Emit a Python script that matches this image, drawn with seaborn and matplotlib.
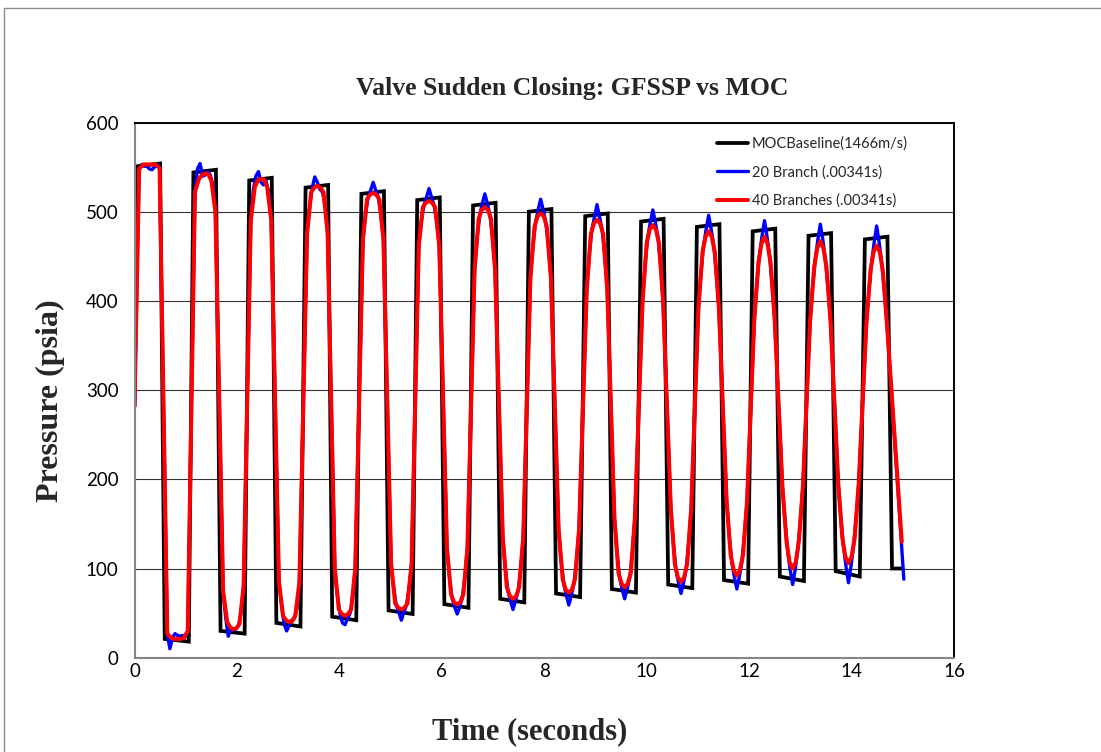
import numpy as np
import pandas as pd
import matplotlib
matplotlib.use("Agg")
import matplotlib.pyplot as plt
import seaborn as sns
from matplotlib.lines import Line2D

# ---------------------------------------------------------------- data
series_names = ["MOCBaseline(1466m/s)", "20 Branch (.00341s)", "40 Branches (.00341s)"]
series_colors = ["#000000", "#0000FF", "#FF0000"]

x_ticks = [0, 2, 4, 6, 8, 10, 12, 14, 16]
y_ticks = [0, 100, 200, 300, 400, 500, 600]

# pressure at valve closure (t = 0) and end of the run
p_initial = 282
t_end = 15.0

# times of the pressure extremes: peak, trough, peak, ...
extreme_t = [0.29, 0.84, 1.38, 1.93, 2.47, 3.02, 3.57, 4.11, 4.66, 5.21,
             5.75, 6.30, 6.84, 7.39, 7.93, 8.48, 9.03, 9.57, 10.12, 10.67,
             11.21, 11.76, 12.30, 12.85, 13.39, 13.94, 14.49]
last_trough_t = 15.04

# MOC baseline: plateau pressures (psia) at start / end of each plateau
moc_high_start = [551, 544, 535, 527, 520, 513, 507, 500, 495, 489, 483, 478, 473, 469]
moc_high_end = [554, 547, 538, 530, 523, 516, 510, 503, 498, 492, 486, 481, 476, 472]
moc_low_start = [21, 30, 39, 46, 53, 60, 66, 72, 77, 82, 87, 91, 97, 100]
moc_low_end = [18, 27, 35, 42, 49, 56, 62, 68, 73, 78, 83, 86, 91, 100]

# GFSSP 40 branches: pressure around each extreme, at these time offsets (s)
red_offsets = [-0.2, -0.12, -0.06, 0.0, 0.06, 0.12, 0.2]
red_levels = [
    [548, 553, 553, 553, 553, 553, 549],
    [27, 22, 21, 21, 21, 22, 30],
    [522, 537, 541, 543, 542, 535, 500],
    [75, 40, 34, 32, 33, 38, 80],
    [490, 528, 535, 537, 536, 528, 490],
    [85, 47, 42, 40, 41, 47, 85],
    [476, 522, 527, 529, 527, 522, 476],
    [100, 54, 49, 47, 49, 54, 100],
    [469, 514, 519, 521, 519, 514, 469],
    [105, 61, 56, 54, 56, 61, 105],
    [462, 505, 510, 512, 510, 505, 462],
    [123, 71, 62, 60, 62, 71, 123],
    [435, 492, 502, 505, 502, 492, 435],
    [135, 79, 69, 66, 69, 79, 135],
    [426, 483, 495, 498, 495, 483, 426],
    [144, 88, 76, 73, 76, 88, 144],
    [413, 475, 487, 491, 487, 475, 413],
    [157, 95, 83, 79, 83, 95, 157],
    [400, 465, 480, 485, 480, 465, 400],
    [168, 105, 90, 85, 90, 105, 168],
    [392, 455, 472, 478, 472, 455, 392],
    [176, 115, 98, 92, 98, 115, 176],
    [378, 442, 464, 472, 464, 442, 378],
    [192, 130, 107, 100, 107, 130, 192],
    [377, 438, 459, 467, 459, 438, 377],
    [195, 134, 113, 106, 113, 134, 195],
    [375, 434, 455, 462, 455, 434, 375],
]
red_final = (14.98, 130)

# GFSSP 20 branches: pressure around each extreme, at these time offsets (s)
blue_offsets = [-0.2, -0.15, -0.1, -0.05, 0.0, 0.05, 0.1, 0.15, 0.2]
blue_levels = [
    [548, 553, 551, 551, 548, 547, 550, 553, 549],
    [27, 10, 22, 27, 25, 24, 25, 23, 30],
    [522, 548, 554, 540, 541, 545, 541, 530, 500],
    [75, 45, 24, 32, 31, 32, 36, 50, 80],
    [490, 525, 540, 545, 533, 530, 534, 522, 490],
    [85, 60, 38, 30, 36, 42, 44, 55, 85],
    [476, 505, 527, 539, 533, 525, 522, 508, 476],
    [100, 70, 50, 39, 37, 44, 50, 68, 100],
    [469, 497, 516, 524, 533, 524, 516, 497, 469],
    [105, 78, 59, 51, 42, 51, 59, 78, 105],
    [462, 489, 507, 516, 526, 516, 507, 489, 462],
    [123, 90, 67, 57, 49, 57, 67, 90, 123],
    [435, 471, 496, 509, 520, 509, 496, 471, 435],
    [135, 100, 75, 64, 54, 64, 75, 100, 135],
    [426, 462, 488, 502, 514, 502, 488, 462, 426],
    [144, 109, 83, 70, 59, 70, 83, 109, 144],
    [413, 452, 480, 494, 508, 494, 480, 452, 413],
    [157, 118, 90, 77, 66, 77, 90, 118, 157],
    [400, 441, 471, 488, 502, 488, 471, 441, 400],
    [168, 129, 99, 84, 72, 84, 99, 129, 168],
    [392, 431, 462, 480, 496, 480, 462, 431, 392],
    [176, 138, 108, 91, 77, 91, 108, 138, 176],
    [378, 418, 450, 472, 490, 472, 450, 418, 378],
    [192, 153, 121, 99, 82, 99, 121, 153, 192],
    [377, 415, 446, 468, 486, 468, 446, 415, 377],
    [195, 157, 126, 103, 84, 103, 126, 157, 195],
    [375, 412, 442, 465, 484, 465, 442, 412, 375],
]
blue_final = (15.02, 88)

# plateau edges of the MOC wave relative to the extreme times (s)
HIGH_LEAD, HIGH_LAG = 0.23, 0.21
LOW_LEAD, LOW_LAG = 0.25, 0.22


# ---------------------------------------------------------------- series
def moc_frame():
    t, p = [0.0], [p_initial]
    for k in range(len(moc_high_start)):
        pc = extreme_t[2 * k]
        tc = extreme_t[2 * k + 1] if 2 * k + 1 < len(extreme_t) else last_trough_t
        t += [pc - HIGH_LEAD, pc + HIGH_LAG, tc - LOW_LEAD, min(tc + LOW_LAG, t_end)]
        p += [moc_high_start[k], moc_high_end[k], moc_low_start[k], moc_low_end[k]]
    return pd.DataFrame({"t": t, "p": p})


def gfssp_frame(offsets, levels, final):
    t, p = [0.0], [p_initial]
    for tc, row in zip(extreme_t, levels):
        for dt, val in zip(offsets, row):
            t.append(tc + dt)
            p.append(val)
    t.append(final[0])
    p.append(final[1])
    return pd.DataFrame({"t": t, "p": p})


frames = [moc_frame(),
          gfssp_frame(blue_offsets, blue_levels, blue_final),
          gfssp_frame(red_offsets, red_levels, red_final)]
widths = [2.7, 2.4, 2.9]

# ---------------------------------------------------------------- figure
sns.set_theme(style="white")
plt.rcParams["font.family"] = ["Lato", "DejaVu Sans"]

W, H = 1101, 752
fig = plt.figure(figsize=(W / 100, H / 100), dpi=100)
fig.patch.set_facecolor("white")
ax = fig.add_axes([134.5 / W, 1 - 657.7 / H, (954 - 134.5) / W, (657.7 - 122.5) / H])

for df, name, col, lw in zip(frames, series_names, series_colors, widths):
    sns.lineplot(data=df, x="t", y="p", ax=ax, color=col, linewidth=lw,
                 sort=False, estimator=None, label=name,
                 solid_joinstyle="miter" if name.startswith("MOC") else "round")

ax.set_xlim(0, 16)
ax.set_ylim(0, 600)
ax.set_xticks(x_ticks)
ax.set_yticks(y_ticks)
ax.set_xlabel("")
ax.set_ylabel("")
ax.yaxis.grid(True, color="#333333", linewidth=0.8)
ax.xaxis.grid(False)
ax.set_axisbelow(True)

for side in ("top", "right"):
    ax.spines[side].set_color("#000000")
    ax.spines[side].set_linewidth(1.4)
for side in ("left", "bottom"):
    ax.spines[side].set_color("#868686")
    ax.spines[side].set_linewidth(1.5)

ax.tick_params(axis="both", direction="out", length=5, width=1,
               color="#868686", labelsize=13.5, labelcolor="#000000")
ax.tick_params(axis="y", pad=6.5)
ax.tick_params(axis="x", pad=-1)

handles, labels = ax.get_legend_handles_labels()
ax.legend(handles, labels, loc="upper right", bbox_to_anchor=(0.944, 0.974),
          frameon=False, fontsize=10.5, handlelength=2.1, handletextpad=0.3,
          labelspacing=0.98, borderpad=0, borderaxespad=0)

serif = ["Liberation Serif", "DejaVu Serif"]
fig.text(572 / W, 1 - 88 / H, "Valve Sudden Closing: GFSSP vs MOC",
         ha="center", va="center", fontsize=18.5, fontweight="bold", family=serif)
fig.text(530 / W, 1 - 732 / H, "Time (seconds)",
         ha="center", va="center", fontsize=22, fontweight="bold", family=serif)
fig.text(50 / W, 1 - 401 / H, "Pressure (psia)", rotation=90,
         ha="center", va="center", fontsize=23, fontweight="bold", family=serif)

# chart-area frame
fig.add_artist(Line2D([3.5 / W, 1.0], [1 - 7.5 / H] * 2, transform=fig.transFigure,
                      color="#8c8c8c", linewidth=1))
fig.add_artist(Line2D([3.5 / W] * 2, [0.0, 1 - 7.5 / H], transform=fig.transFigure,
                      color="#8c8c8c", linewidth=1))

fig.savefig("out.png", dpi=100)
